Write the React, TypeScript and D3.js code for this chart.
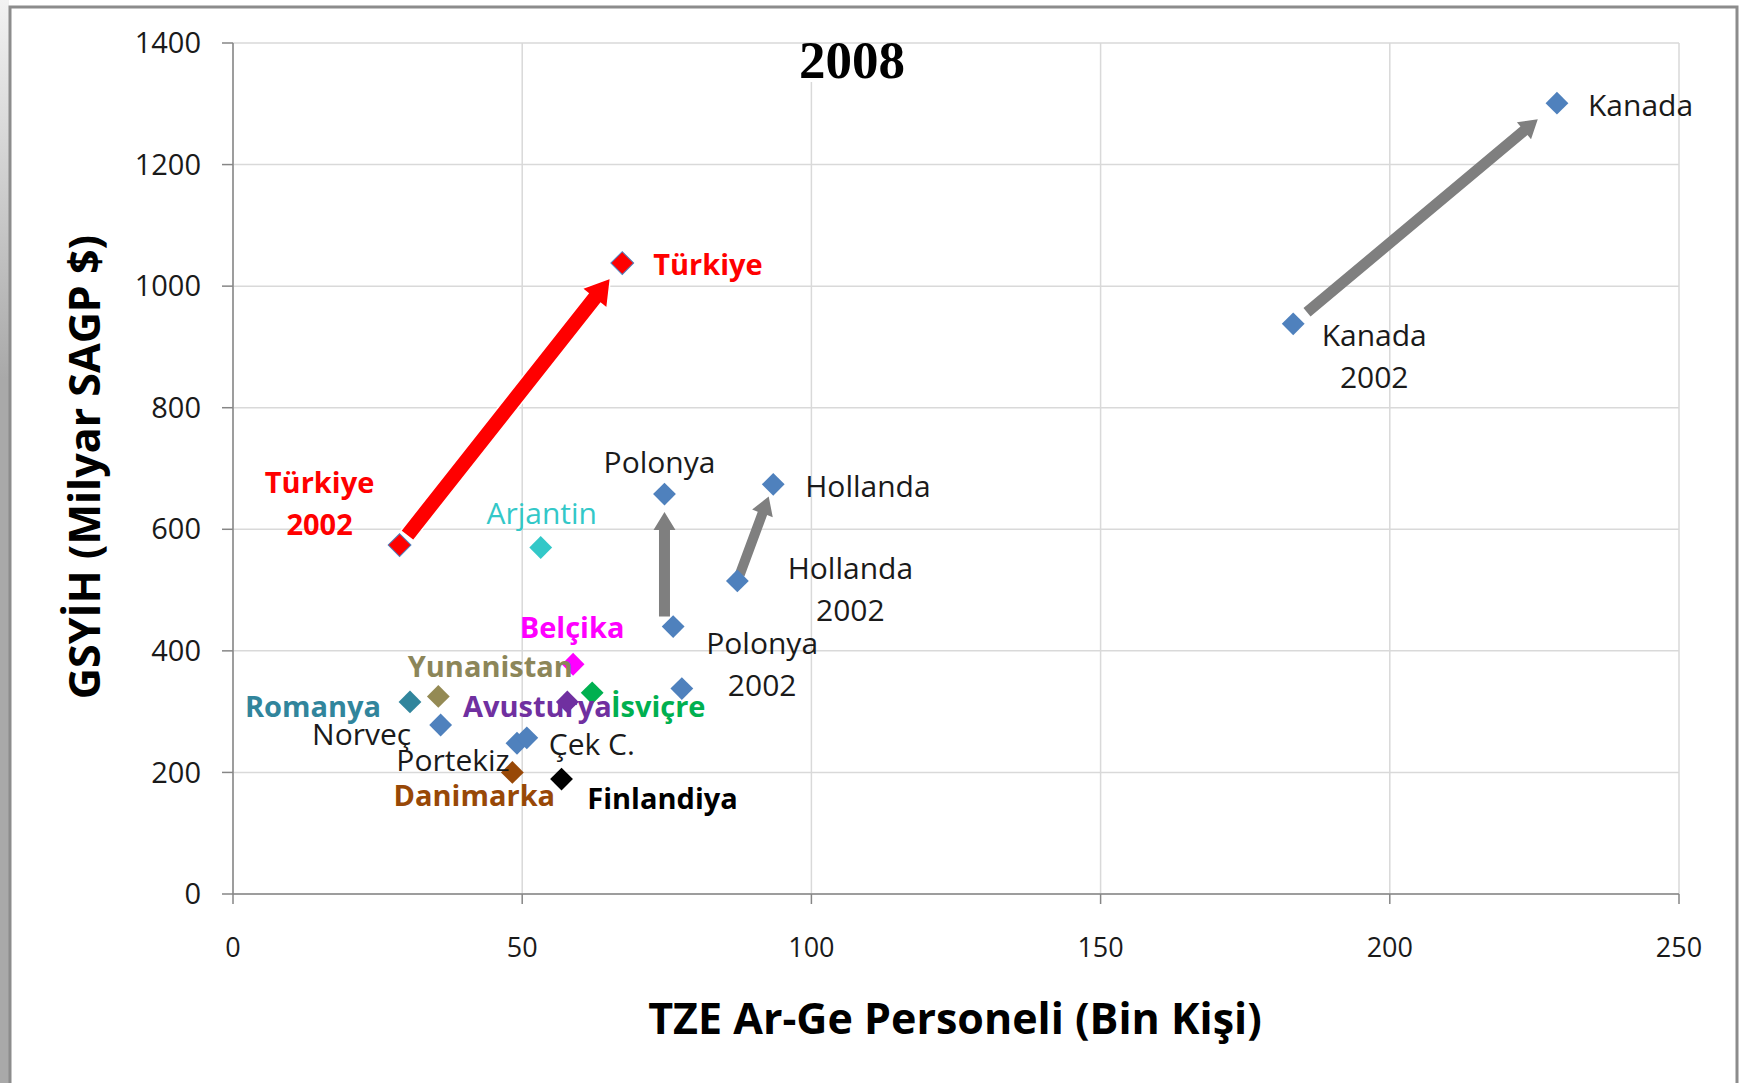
import * as d3 from 'd3';

// Data
const countries = [
  'Kanada', 'Kanada 2002', 'Türkiye', 'Türkiye 2002', 'Arjantin', 'Polonya', 'Polonya 2002',
  'Hollanda', 'Hollanda 2002', 'Belçika', 'Yunanistan', 'Romanya', 'Norveç', 'Avusturya',
  'İsviçre', 'İsveç', 'Portekiz', 'Çek C.', 'Danimarka', 'Finlandiya',
];
const personnel = [228.9, 183.3, 67.3, 28.8, 53.2, 74.6, 76.1, 93.4, 87.2, 58.8, 35.5, 30.6, 35.9, 57.8, 62.1, 77.6, 49.1, 50.8, 48.3, 56.8];
const gdp = [1301, 938, 1038, 574, 570, 658, 440, 674, 515, 378, 325, 316, 278, 316, 331, 338, 248, 257, 200, 189];
const markerColors = [
  '#4f81bd', '#4f81bd', '#ff0000', '#ff0000', '#33c8c8', '#4f81bd', '#4f81bd',
  '#4f81bd', '#4f81bd', '#ff00ff', '#948a54', '#31859c', '#4f81bd', '#7030a0',
  '#00b050', '#4f81bd', '#4f81bd', '#4f81bd', '#984807', '#000000',
];

const xTicks = [0, 50, 100, 150, 200, 250];
const yTicks = [0, 200, 400, 600, 800, 1000, 1200, 1400];

// Label texts (lines), colour, weight; empty = no label
const labelLines = [
  ['Kanada'], ['Kanada', '2002'], ['Türkiye'], ['Türkiye', '2002'], ['Arjantin'], ['Polonya'], ['Polonya', '2002'],
  ['Hollanda'], ['Hollanda', '2002'], ['Belçika'], ['Yunanistan'], ['Romanya'], ['Norveç'], ['Avusturya'],
  ['İsviçre'], [], ['Portekiz'], ['Çek C.'], ['Danimarka'], ['Finlandiya'],
];
const labelColors = [
  '#1a1a1a', '#1a1a1a', '#ff0000', '#ff0000', '#33c8c8', '#1a1a1a', '#1a1a1a',
  '#1a1a1a', '#1a1a1a', '#ff00ff', '#8c8659', '#31859c', '#1a1a1a', '#7030a0',
  '#00b050', '#1a1a1a', '#1a1a1a', '#1a1a1a', '#984807', '#000000',
];
const labelBold = [false, false, true, true, false, false, false, false, false, true, true, true, false, true, true, false, false, false, true, true];

// label placement relative to marker: [dx, dy of first baseline, anchor]
const labelLayout: [number, number, string][] = [
  [31, 13, 'start'], [81, 22, 'middle'], [31, 12, 'start'], [-80, -52, 'middle'], [1, -24, 'middle'],
  [-5, -21, 'middle'], [89, 27, 'middle'], [32, 13, 'start'], [113, -2, 'middle'], [-1, -26, 'middle'],
  [52, -19, 'middle'], [-97, 15, 'middle'], [-79, 20, 'middle'], [-30, 15, 'middle'], [66, 24, 'middle'],
  [0, 0, 'middle'], [-64, 28, 'middle'], [22, 17, 'start'], [-38, 34, 'middle'], [101, 30, 'middle'],
];

// arrows: from 2002 to 2008
const arrowFrom = ['Türkiye 2002', 'Kanada 2002', 'Polonya 2002', 'Hollanda 2002'];
const arrowTo = ['Türkiye', 'Kanada', 'Polonya', 'Hollanda'];
const arrowColors = ['#ff0000', '#7f7f7f', '#7f7f7f', '#7f7f7f'];
const arrowStyle = [
  { startGap: 12, endGap: 19, w: 16, hw: 32, hl: 26, vertical: false },
  { startGap: 18, endGap: 25, w: 11, hw: 22, hl: 18, vertical: false },
  { startGap: 10, endGap: 18, w: 11, hw: 22, hl: 18, vertical: true },
  { startGap: 7, endGap: 13, w: 10, hw: 22, hl: 18, vertical: false },
];

const W = 1742;
const H = 1083;
const margin = { left: 233, right: 63, top: 43, bottom: 189 };

export default function App() {
  const x = d3.scaleLinear().domain([0, 250]).range([margin.left, W - margin.right]);
  const y = d3.scaleLinear().domain([0, 1400]).range([H - margin.bottom, margin.top]);
  const diamond = d3.symbol(d3.symbolSquare, 260)();
  const font = '"Open Sans", Lato, sans-serif';

  const arrowPath = (i: number) => {
    const a = countries.indexOf(arrowFrom[i]);
    const b = countries.indexOf(arrowTo[i]);
    const s = arrowStyle[i];
    const x1 = x(personnel[b]), y1 = y(gdp[b]);
    const x0 = s.vertical ? x1 : x(personnel[a]);
    const y0 = y(gdp[a]);
    const len = Math.hypot(x1 - x0, y1 - y0);
    const ux = (x1 - x0) / len, uy = (y1 - y0) / len;
    const nx = -uy, ny = ux;
    const sx = x0 + ux * s.startGap, sy = y0 + uy * s.startGap;
    const tx = x1 - ux * s.endGap, ty = y1 - uy * s.endGap;
    const bx = tx - ux * s.hl, by = ty - uy * s.hl;
    const p = (px: number, py: number) => `${px},${py}`;
    return 'M' + [
      p(sx + nx * s.w / 2, sy + ny * s.w / 2),
      p(bx + nx * s.w / 2, by + ny * s.w / 2),
      p(bx + nx * s.hw / 2, by + ny * s.hw / 2),
      p(tx, ty),
      p(bx - nx * s.hw / 2, by - ny * s.hw / 2),
      p(bx - nx * s.w / 2, by - ny * s.w / 2),
      p(sx - nx * s.w / 2, sy - ny * s.w / 2),
    ].join('L') + 'Z';
  };

  return (
    <svg width={W} height={H} style={{ position: 'absolute', left: 0, top: 0, background: '#fff' }}>
      <defs>
        <linearGradient id="edge" x1="0" y1="0" x2="0" y2="1">
          <stop offset="0" stopColor="#f2f2f2" />
          <stop offset="0.35" stopColor="#a9a9a9" />
          <stop offset="1" stopColor="#a9a9a9" />
        </linearGradient>
      </defs>
      {/* slide frame */}
      <rect x={0} y={0} width={9} height={H} fill="url(#edge)" />
      <path d={`M10,${H} V7 H1737 V${H}`} fill="none" stroke="#8c8c8c" strokeWidth={3} />

      {/* grid */}
      {yTicks.map((t) => (
        <line key={'gy' + t} x1={x(0)} x2={x(250)} y1={y(t)} y2={y(t)} stroke="#d9d9d9" strokeWidth={1.5} />
      ))}
      {xTicks.map((t) => (
        <line key={'gx' + t} x1={x(t)} x2={x(t)} y1={y(0)} y2={y(1400)} stroke="#d9d9d9" strokeWidth={1.5} />
      ))}

      {/* axes */}
      <line x1={x(0)} x2={x(0)} y1={y(0)} y2={y(1400)} stroke="#868686" strokeWidth={1.5} />
      <line x1={x(0)} x2={x(250)} y1={y(0)} y2={y(0)} stroke="#868686" strokeWidth={1.5} />
      {yTicks.map((t) => (
        <g key={'ty' + t}>
          <line x1={x(0) - 11} x2={x(0)} y1={y(t)} y2={y(t)} stroke="#868686" strokeWidth={1.5} />
          <text x={201} y={y(t)} dy="0.35em" textAnchor="end" fontFamily={font} fontSize={29} fill="#1a1a1a">{t}</text>
        </g>
      ))}
      {xTicks.map((t) => (
        <g key={'tx' + t}>
          <line x1={x(t)} x2={x(t)} y1={y(0)} y2={y(0) + 10} stroke="#868686" strokeWidth={1.5} />
          <text x={x(t)} y={957} textAnchor="middle" fontFamily={font} fontSize={27} fill="#1a1a1a">{t}</text>
        </g>
      ))}

      {/* title */}
      <rect x={793} y={46} width={119} height={36} fill="#fff" />
      <text x={852} y={78} textAnchor="middle" fontFamily='"Liberation Serif", "Times New Roman", serif' fontWeight="bold" fontSize={53}>2008</text>

      {/* axis titles */}
      <text x={955} y={1034} textAnchor="middle" fontFamily={font} fontWeight="bold" fontSize={43} fill="#000">TZE Ar-Ge Personeli (Bin Kişi)</text>
      <text transform="translate(100,467) rotate(-90)" textAnchor="middle" fontFamily={font} fontWeight="bold" fontSize={43} fill="#000">GSYİH (Milyar SAGP $)</text>

      {/* arrows */}
      {arrowFrom.map((_, i) => (
        <path key={'a' + i} d={arrowPath(i)} fill={arrowColors[i]} stroke={i === 0 ? '#fff' : 'none'} strokeWidth={1.5} />
      ))}

      {/* markers */}
      {countries.map((c, i) => (
        <path
          key={'m' + c}
          d={diamond}
          transform={`translate(${x(personnel[i])},${y(gdp[i])}) rotate(45)`}
          fill={markerColors[i]}
          stroke={markerColors[i] === '#ff0000' ? '#4f81bd' : 'none'}
          strokeWidth={1}
        />
      ))}

      {/* labels */}
      {countries.map((c, i) => {
        const [dx, dy, anchor] = labelLayout[i];
        return (
          <text
            key={'l' + c}
            x={x(personnel[i]) + dx}
            y={y(gdp[i]) + dy}
            textAnchor={anchor}
            fontFamily={font}
            fontSize={labelBold[i] ? 29 : 30}
            fontWeight={labelBold[i] ? 'bold' : 'normal'}
            fill={labelColors[i]}
          >
            {labelLines[i].map((line, k) => (
              <tspan key={k} x={x(personnel[i]) + dx} dy={k === 0 ? 0 : 42}>{line}</tspan>
            ))}
          </text>
        );
      })}
    </svg>
  );
}
